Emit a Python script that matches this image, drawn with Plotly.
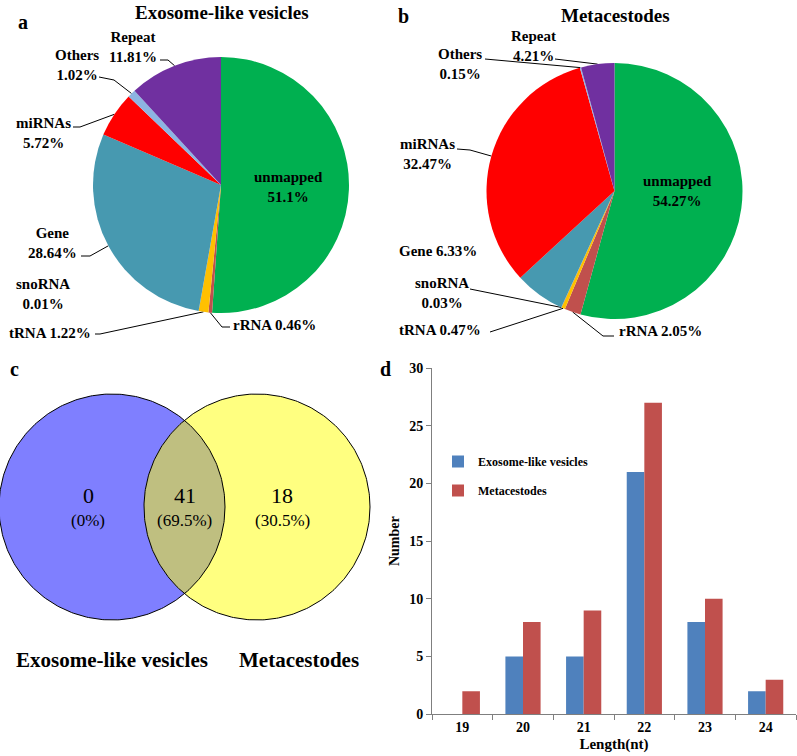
import numpy as np
import plotly.graph_objects as go

W, H = 797, 756
SERIF = "Liberation Serif, Times New Roman, serif"

# pie data (a, b)
categories = ["unmapped", "rRNA", "tRNA", "snoRNA", "Gene", "miRNAs", "Others", "Repeat"]
exo_pct = [51.1, 0.46, 1.22, 0.01, 28.64, 5.72, 1.02, 11.81]
meta_pct = [54.27, 2.05, 0.47, 0.03, 6.33, 32.47, 0.15, 4.21]
slice_colors = ["#00B050", "#C0504D", "#FFC000", "#8064A2", "#4799B0", "#FF0000", "#8DB4E2", "#7030A0"]

# venn data (c): only exosome, shared, only metacestodes
venn_sets = ["Exosome-like vesicles", "Metacestodes"]
venn_counts = [0, 41, 18]

# length distribution (d)
lengths = ["19", "20", "21", "22", "23", "24"]
exo_counts = [0, 5, 5, 21, 8, 2]
meta_counts = [2, 8, 9, 27, 10, 3]


def pie_domain(cx, cy, r):
    return dict(x=[(cx - r) / W, (cx + r) / W], y=[1 - (cy + r) / H, 1 - (cy - r) / H])


def edge_point(values, i, cx, cy, r):
    f = (sum(values[:i]) + values[i] / 2) / sum(values)
    t = 2 * np.pi * f
    return cx + r * np.sin(t), cy - r * np.cos(t)


# label placement: name -> (x, y, two_lines, line start, elbow)
pies = [
    dict(values=exo_pct, title="Exosome-like vesicles", tx=222, ty=12, letter="a", lx=23, ly=22,
         cx=221, cy=185, r=128, inner=(288, 187),
         labels={
             "Repeat": (133, 47, True, (160, 60), (168, 60)),
             "Others": (77, 65, True, (99, 77), (114, 80)),
             "miRNAs": (43, 133, True, (73, 127), (80, 127)),
             "Gene": (52, 243, True, (81, 256), (90, 256)),
             "snoRNA": (43, 294, True, None, None),
             "tRNA": (50, 333, False, (95, 334), (100, 334)),
             "rRNA": (274, 325, False, (230, 327), (222, 327)),
         }),
    dict(values=meta_pct, title="Metacestodes", tx=615, ty=15, letter="b", lx=403, ly=16,
         cx=614.5, cy=191, r=128, inner=(677, 191),
         labels={
             "Repeat": (533, 46, True, (555, 59), None),
             "Others": (460, 64, True, (485, 59), None),
             "miRNAs": (427, 154, True, (457, 149), (470, 150)),
             "Gene": (438, 251, False, None, None),
             "snoRNA": (442, 293, True, (470, 289), None),
             "tRNA": (440, 330, False, (490, 332), None),
             "rRNA": (660, 331, False, (614, 336), (603, 336)),
         }),
]

fig = go.Figure()
annotations = []

for p in pies:
    fig.add_trace(go.Pie(
        labels=categories, values=p["values"], sort=False, direction="clockwise", rotation=0,
        marker=dict(colors=slice_colors, line=dict(width=0)), textinfo="none",
        hoverinfo="label+percent", showlegend=False, domain=pie_domain(p["cx"], p["cy"], p["r"]),
    ))
    for name, (x, y, two, start, elbow) in p["labels"].items():
        i = categories.index(name)
        v = p["values"][i]
        text = f"{name}<br>{v:g}%" if two else f"{name} {v:g}%"
        annotations.append(dict(x=x, y=y, text=text, font=dict(size=15, weight="bold")))
        if start is not None:
            ex, ey = edge_point(p["values"], i, p["cx"], p["cy"], p["r"])
            pts = [start] + ([elbow] if elbow else []) + [(ex, ey)]
            fig.add_trace(go.Scatter(
                x=[q[0] for q in pts], y=[q[1] for q in pts], mode="lines",
                line=dict(color="black", width=1), xaxis="x2", yaxis="y2",
                hoverinfo="skip", showlegend=False,
            ))
    annotations.append(dict(x=p["inner"][0], y=p["inner"][1],
                            text=f"{categories[0]}<br>{p['values'][0]:g}%",
                            font=dict(size=15, weight="bold")))
    annotations.append(dict(x=p["tx"], y=p["ty"], text=p["title"], font=dict(size=19, weight="bold")))
    annotations.append(dict(x=p["lx"], y=p["ly"], text=p["letter"], font=dict(size=20, weight="bold")))

# venn diagram
vr, vy = 113, 507
vcx = [112, 257]
t = np.linspace(0, 2 * np.pi, 361)
for c, col in zip(vcx, ["#7F7FFF", "#FFFF80"]):
    fig.add_trace(go.Scatter(x=c + vr * np.cos(t), y=vy + vr * np.sin(t), mode="lines", fill="toself",
                             fillcolor=col, line=dict(width=0), xaxis="x2", yaxis="y2",
                             hoverinfo="skip", showlegend=False))
half = (vcx[1] - vcx[0]) / 2
ang = np.arccos(half / vr)
a1 = np.linspace(-ang, ang, 100)
a2 = np.linspace(np.pi - ang, np.pi + ang, 100)
lx = np.concatenate([vcx[0] + vr * np.cos(a1), vcx[1] + vr * np.cos(a2)])
ly = np.concatenate([vy + vr * np.sin(a1), vy + vr * np.sin(a2)])
fig.add_trace(go.Scatter(x=lx, y=ly, mode="lines", fill="toself", fillcolor="#BFBF80",
                         line=dict(width=0), xaxis="x2", yaxis="y2", hoverinfo="skip", showlegend=False))
for c in vcx:
    fig.add_trace(go.Scatter(x=c + vr * np.cos(t), y=vy + vr * np.sin(t), mode="lines",
                             line=dict(color="black", width=1), xaxis="x2", yaxis="y2",
                             hoverinfo="skip", showlegend=False))

total = sum(venn_counts)
for x, n in zip([88, 184.5, 282], venn_counts):
    annotations.append(dict(x=x, y=495, text=str(n), font=dict(size=22)))
    annotations.append(dict(x=x, y=520, text=f"({'%g' % round(n / total * 100, 1)}%)", font=dict(size=17)))
annotations.append(dict(x=112, y=660, text=venn_sets[0], font=dict(size=21, weight="bold")))
annotations.append(dict(x=299, y=660, text=venn_sets[1], font=dict(size=21, weight="bold")))
annotations.append(dict(x=14, y=369, text="c", font=dict(size=20, weight="bold")))
annotations.append(dict(x=385, y=369, text="d", font=dict(size=20, weight="bold")))

# bar chart
fig.add_trace(go.Bar(x=lengths, y=exo_counts, name="Exosome-like vesicles",
                     marker=dict(color="#4F81BD", line=dict(width=0)), legendgroup="a"))
fig.add_trace(go.Bar(x=lengths, y=meta_counts, name="Metacestodes",
                     marker=dict(color="#C0504D", line=dict(width=0)), legendgroup="b"))

for a in annotations:
    a.update(xref="x2", yref="y2", showarrow=False, xanchor="center", yanchor="middle", align="center")
    a["font"].update(family=SERIF, color="black")

axis_col = "#7F7F7F"
fig.update_layout(
    width=W, height=H, margin=dict(l=0, r=0, t=0, b=0, autoexpand=False),
    paper_bgcolor="white", plot_bgcolor="rgba(0,0,0,0)",
    font=dict(family=SERIF, color="black"),
    annotations=annotations,
    barmode="group", bargap=0.42, bargroupgap=0,
    xaxis=dict(domain=[432 / W, 796 / W], anchor="y", type="category", showline=True, linecolor=axis_col,
               ticks="outside", tickson="boundaries", ticklen=5, tickcolor=axis_col,
               tickfont=dict(size=14, weight="bold"),
               title=dict(text="Length(nt)", font=dict(size=15, weight="bold"), standoff=4)),
    yaxis=dict(domain=[1 - 714.3 / H, 1 - 368 / H], anchor="x", range=[0, 30], dtick=5, showline=True,
               linecolor=axis_col, ticks="outside", ticklen=5, tickcolor=axis_col, showgrid=False,
               zeroline=False, tickfont=dict(size=14, weight="bold"),
               title=dict(text="Number", font=dict(size=14, weight="bold"), standoff=6)),
    xaxis2=dict(domain=[0, 1], anchor="y2", range=[0, W], visible=False, fixedrange=True),
    yaxis2=dict(domain=[0, 1], anchor="x2", range=[H, 0], visible=False, fixedrange=True),
    legend=dict(x=438 / W, y=1 - 447 / H, xanchor="left", yanchor="top", bgcolor="rgba(0,0,0,0)",
                font=dict(size=12, weight="bold"), tracegroupgap=10, itemwidth=30),
)

fig.write_html("out.html", config={"displayModeBar": False},
               post_script="document.body.style.margin='0';document.body.style.overflow='hidden';")
